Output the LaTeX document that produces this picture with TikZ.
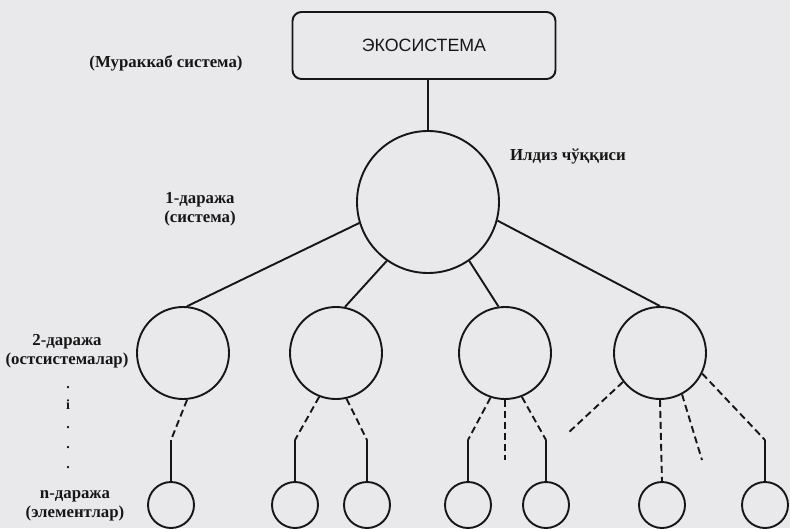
\documentclass[tikz,border=0pt]{standalone}
\usepackage{fontspec}
\setmainfont{Liberation Serif}
\newfontfamily\boxfont{Liberation Sans}
\definecolor{paper}{RGB}{233,233,236}
\definecolor{ink}{RGB}{22,22,22}
\begin{document}
\begin{tikzpicture}[x=1pt,y=-1pt, color=ink, line width=1.9pt,
  topbox/.style={draw, rounded corners=9pt, minimum width=263pt, minimum height=67pt,
    font=\boxfont\fontsize{17.8}{20}\selectfont},
  bigvertex/.style={draw, circle, minimum size=142pt, inner sep=0pt},
  midvertex/.style={draw, circle, minimum size=92pt, inner sep=0pt},
  leafvertex/.style={draw, circle, minimum size=46pt, inner sep=0pt},
  lbl/.style={font=\bfseries\fontsize{16.8}{18.5}\selectfont, align=center, inner sep=0pt},
  dotlbl/.style={font=\bfseries\fontsize{14}{16}\selectfont, inner sep=0pt},
  dashlink/.style={dash pattern=on 7pt off 4pt}]

  % page background
  \fill[paper] (0,0) rectangle (790,528);
  \useasboundingbox (0,0) rectangle (790,528);

  % root of the hierarchy
  \node[topbox] (eco) at (424,45.5) {ЭКОСИСТЕМА};
  \node[bigvertex] (root) at (428,202) {};

  % level 2: subsystems
  \node[midvertex] (c1) at (183,353) {};
  \node[midvertex] (c2) at (336,353) {};
  \node[midvertex] (c3) at (505,353) {};
  \node[midvertex] (c4) at (660,353) {};

  % level n: elements
  \node[leafvertex] (l1) at (171,505) {};
  \node[leafvertex] (l2) at (295,505) {};
  \node[leafvertex] (l3) at (367,505) {};
  \node[leafvertex] (l4) at (468,505) {};
  \node[leafvertex] (l5) at (546,505) {};
  \node[leafvertex] (l6) at (662,505) {};
  \node[leafvertex] (l7) at (765,505) {};

  % bend points where dashed links turn into solid drops
  \coordinate (k1) at (171,440);
  \coordinate (k2) at (295,440);
  \coordinate (k3) at (367,440);
  \coordinate (k4) at (468,440);
  \coordinate (k5) at (546,440);
  \coordinate (k7) at (765,440);
  % loose ends of open dashed links
  \coordinate (f1) at (505,460);
  \coordinate (f2) at (568,433);
  \coordinate (f3) at (702,460);

  % solid links
  \draw (eco.south -| root.north) -- (root.north);
  \draw (root.197) -- (c1.85);
  \draw (root.235) -- (c2.79);
  \draw (root.-55) -- (c3.98);
  \draw (root.-15) -- (c4.north);

  % dashed links with solid drops
  \draw[dashlink] (c1.-85) -- (k1);  \draw (k1) -- (l1.north);
  \draw[dashlink] (c2.-111) -- (k2); \draw (k2) -- (l2.north);
  \draw[dashlink] (c2.-77) -- (k3);  \draw (k3) -- (l3.north);
  \draw[dashlink] (c3.-108) -- (k4); \draw (k4) -- (l4.north);
  \draw[dashlink] (c3.-69) -- (k5);  \draw (k5) -- (l5.north);
  \draw[dashlink] (c4.-26) -- (k7);  \draw (k7) -- (l7.north);
  \draw[dashlink] (c4.south) -- (l6.north);
  % open dashed links
  \draw[dashlink] (c3.south) -- (f1);
  \draw[dashlink] (c4.-142) -- (f2);
  \draw[dashlink] (c4.-62) -- (f3);

  % labels
  \node[lbl] (tComplex) at (166,63) {(Мураккаб система)};
  \node[lbl] (tRoot) at (568,157) {Илдиз чўққиси};
  \node[lbl] (tL1) at (200,209) {1-даража\\(система)};
  \node[lbl] (tL2) at (67,351) {2-даража\\(остсистемалар)};
  \node[dotlbl] (d1) at (68,388) {.};
  \node[dotlbl] (d2) at (68,405) {i};
  \node[dotlbl] (d3) at (68,428) {.};
  \node[dotlbl] (d4) at (68,448) {.};
  \node[dotlbl] (d5) at (68,468) {.};
  \node[lbl] (tLn) at (75,506) {n-даража\\(элементлар)};
\end{tikzpicture}
\end{document}
